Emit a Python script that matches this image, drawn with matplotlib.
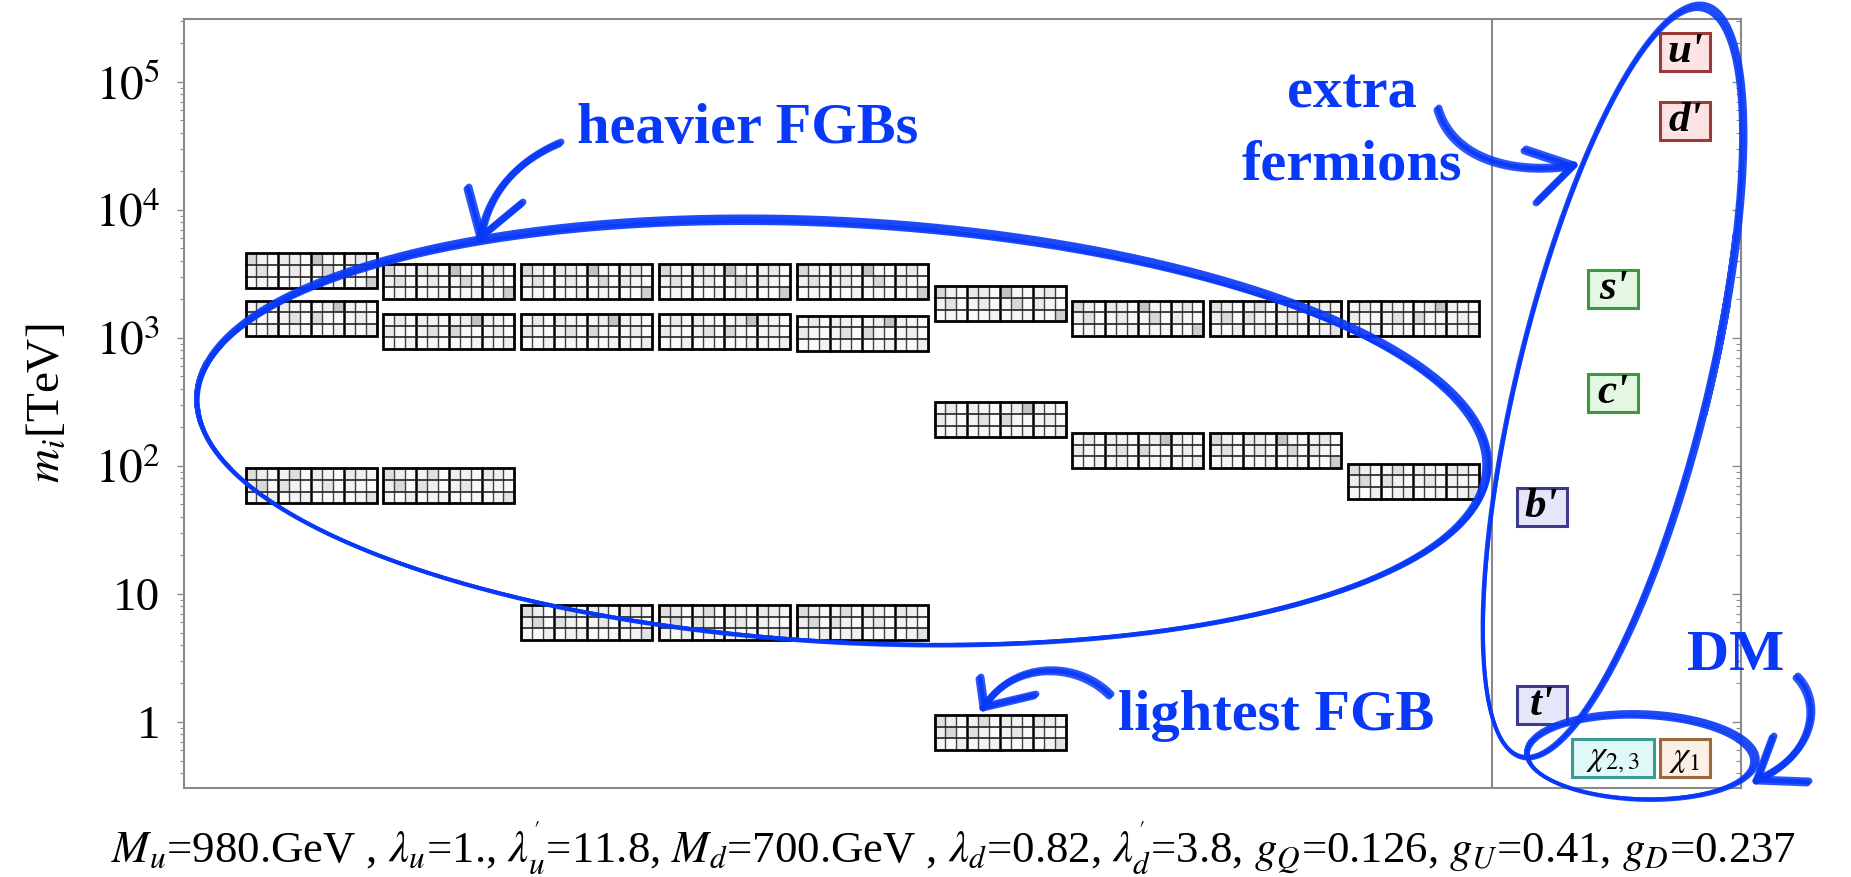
import matplotlib; matplotlib.use("Agg")
import matplotlib.pyplot as plt
import numpy as np
from matplotlib.patches import Rectangle
from matplotlib.transforms import ScaledTranslation

plt.rcParams["font.family"] = ["Liberation Serif", "DejaVu Serif"]
plt.rcParams["mathtext.fontset"] = "stix"

W_PX, H_PX, DPI = 1851, 877, 100
BLUE = "#0838f8"
GRAY = "#8a8a8a"

# FGB spectrum: column index and mass (TeV)
fgb_col  = [1, 1, 1, 2, 2, 2, 3, 3, 3, 4, 4, 4, 5, 5, 5, 6, 6, 6, 7, 7, 8, 8, 9, 9]
fgb_mass = [3340, 1430, 70, 2760, 1120, 70, 2760, 1120, 6.0, 2760, 1120, 6.0,
            2760, 1090, 6.0, 1850, 229, 0.83, 1430, 132, 1430, 132, 1430, 76]

# flavour-matrix shading of the little boxes (3 rows x 12 cells), cycled
shades = [
    [[.25, .12, .04, .16, .14, .04, .35, .08, .04, .10, .16, .04],
     [.12, .20, .04, .08, .16, .04, .08, .26, .04, .16, .08, .04],
     [.04, .08, .06, .04, .04, .10, .04, .08, .08, .04, .04, .30]],
    [[.08, .16, .04, .14, .10, .04, .08, .14, .35, .12, .08, .04],
     [.16, .08, .04, .10, .20, .04, .25, .08, .04, .08, .14, .04],
     [.04, .04, .12, .04, .08, .04, .04, .04, .10, .08, .04, .14]],
    [[.22, .14, .04, .10, .22, .04, .14, .10, .04, .16, .14, .08],
     [.14, .25, .04, .20, .12, .04, .10, .18, .04, .12, .08, .04],
     [.08, .04, .14, .04, .10, .12, .04, .04, .08, .04, .10, .20]],
]

# extra fermions and DM candidates
ferm_lab  = ["u'", "d'", "s'", "c'", "b'", "t'", r"$\chi_{2,3}$", r"$\chi_1$"]
ferm_x    = [10.97, 10.97, 10.45, 10.45, 9.93, 9.93, 10.45, 10.97]
ferm_mass = [1.71e5, 4.96e4, 2415, 372, 47.8, 1.36, 0.523, 0.523]
ferm_face = ["#fde3e3", "#fde3e3", "#e3f7e3", "#e3f7e3", "#e6e6fa", "#e6e6fa", "#e0f8f8", "#fcefe3"]
ferm_edge = ["#9b3a3a", "#9b3a3a", "#3c9a3c", "#3c9a3c", "#3c3c8c", "#3c3c8c", "#3c9a94", "#9a6a3c"]

yticks = [1, 10, 1e2, 1e3, 1e4, 1e5]
ytick_labels = ["1", "10", "$10^2$", "$10^3$", "$10^4$", "$10^5$"]

params = (r"$M_u$=980.GeV , $\lambda_u$=1., $\lambda_u^{'}$=11.8, $M_d$=700.GeV , "
          r"$\lambda_d$=0.82, $\lambda_d^{'}$=3.8, $g_Q$=0.126, $g_U$=0.41, $g_D$=0.237")

fig = plt.figure(figsize=(W_PX / DPI, H_PX / DPI), dpi=DPI)
ax = fig.add_axes([184 / W_PX, 1 - 788 / H_PX, (1741 - 184) / W_PX, (788 - 19) / H_PX])
ax.set_yscale("log")

# --- FGB boxes (size fixed in inches, placed at data position) ---
bw, bh = 1.31, 0.35
xs = np.linspace(-bw / 2, bw / 2, 13)
ys = np.linspace(-bh / 2, bh / 2, 4)
for k, (c, m) in enumerate(zip(fgb_col, fgb_mass)):
    tr = fig.dpi_scale_trans + ScaledTranslation(c, m, ax.transData)
    ax.pcolormesh(xs, ys, np.array(shades[k % len(shades)])[::-1], cmap="Greys",
                  vmin=0, vmax=1, transform=tr, zorder=2)
    for j in range(1, 12):
        thick = j % 3 == 0
        ax.plot([xs[j]] * 2, [ys[0], ys[-1]], color="k" if thick else "#444",
                lw=1.8 if thick else 1.0, transform=tr, zorder=3)
    for j in (1, 2):
        ax.plot([xs[0], xs[-1]], [ys[j]] * 2, color="#222", lw=1.2, transform=tr, zorder=3)
    ax.add_patch(Rectangle((-bw / 2, -bh / 2), bw, bh, fill=False, ec="k", lw=2.0,
                           transform=tr, zorder=4))

# --- fermion labels ---
for lab, x, m, fc, ec in zip(ferm_lab, ferm_x, ferm_mass, ferm_face, ferm_edge):
    tr = fig.dpi_scale_trans + ScaledTranslation(x, m, ax.transData)
    chi = "chi" in lab
    w = 0.82 if "2,3" in lab else 0.50
    ax.add_patch(Rectangle((-w / 2, -0.19), w, 0.38, fc=fc, ec=ec, lw=2.2, transform=tr, zorder=3))
    if chi:
        ax.text(x, m, lab, ha="center", va="center", fontsize=25, zorder=4)
    else:
        ax.text(x, m, lab, ha="center", va="center", fontsize=31, fontstyle="italic",
                fontweight="semibold", zorder=4)

ax.axvline(9.571, color=GRAY, lw=1.5)
ax.set_xlim(0.078, 11.377)
ax.set_ylim(0.305, 3.1e5)
ax.set_xticks([])
ax.set_yticks(yticks)
ax.set_yticklabels(ytick_labels)
ax.tick_params(axis="y", which="major", direction="out", length=5, width=1.0, color=GRAY,
               labelsize=34, pad=12)
ax.tick_params(axis="y", which="minor", direction="out", length=3, width=0.8, color=GRAY)
ax.set_ylabel(r"$m_i$[TeV]", fontsize=34)
ax.yaxis.set_label_coords(-0.074, 0.50)
for s in ax.spines.values():
    s.set_color(GRAY); s.set_linewidth(1.5)

axr = ax.twinx()
axr.set_yscale("log")
axr.set_ylim(ax.get_ylim())
axr.tick_params(axis="y", which="major", direction="in", length=6.5, width=1.0, color=GRAY,
                labelright=False)
axr.tick_params(axis="y", which="minor", direction="in", length=3.5, width=0.8, color=GRAY,
                labelright=False)
for s in axr.spines.values():
    s.set_visible(False)

fig.text(953 / W_PX, 1 - 862 / H_PX, params, ha="center", va="baseline", fontsize=32.2)

# --- hand-drawn overlay (figure pixel coordinates, y down) ---
ov = fig.add_axes([0, 0, 1, 1])
ov.set_xlim(0, W_PX); ov.set_ylim(H_PX, 0); ov.axis("off")


def sketch_ellipse(cx, cy, a, b, ang, jitter, lw=2.6):
    ca, sa = np.cos(np.radians(ang)), np.sin(np.radians(ang))
    for dcx, dcy, da, db, t0 in jitter:
        t = np.linspace(t0, t0 + 2 * np.pi + 0.3, 400)
        ex, ey = (a + da) * np.cos(t), (b + db) * np.sin(t)
        ov.plot(cx + dcx + ex * ca - ey * sa, cy + dcy + ex * sa + ey * ca,
                color=BLUE, lw=lw, solid_capstyle="round", alpha=0.9)


def sketch_arrow(pts, barbs, lw=5):
    P = np.array(pts, float)
    t = np.linspace(0, 1, 80)[:, None]
    cv = (1 - t) ** 3 * P[0] + 3 * (1 - t) ** 2 * t * P[1] + 3 * (1 - t) * t ** 2 * P[2] + t ** 3 * P[3]
    for d in (-1.0, 1.0):
        ov.plot(cv[:, 0] + d, cv[:, 1] - d, color=BLUE, lw=lw, solid_capstyle="round", alpha=0.85)
    for bx, by in barbs:
        for d in (-1.0, 1.0):
            ov.plot([bx + d, P[3][0] + d], [by - d, P[3][1] - d], color=BLUE, lw=lw,
                    solid_capstyle="round", alpha=0.85)


jit = [(0, 0, 0, 0, 2.9), (1, -1, 2, 2, 3.0), (-1, 1, -2, -1, 2.8), (1, 2, 1, -2, 3.1)]
sketch_ellipse(842, 432, 646, 210, 3.2, jit)
sketch_ellipse(1613, 382, 386, 95, -76.3, [(0, 0, 0, 0, 1.2), (1, -1, 2, 2, 1.3), (-1, 1, -2, -1, 1.1)])
sketch_ellipse(1641, 757, 114, 42, 2.0, [(0, 0, 0, 0, 3.0), (1, -1, 2, 2, 3.1), (-1, 1, -2, -1, 2.9)])

sketch_arrow([(560, 143), (515, 162), (488, 195), (481, 237)], [(468, 188), (522, 203)])
sketch_arrow([(1438, 109), (1450, 152), (1500, 176), (1573, 166)], [(1525, 150), (1537, 202)])
sketch_arrow([(1110, 695), (1075, 660), (1012, 662), (984, 707)], [(980, 678), (1035, 695)])
sketch_arrow([(1797, 677), (1824, 705), (1812, 757), (1757, 780)], [(1773, 737), (1808, 782)])

tkw = dict(color=BLUE, fontsize=42, fontweight="bold", ha="center", va="baseline")
ov.text(748, 143, "heavier FGBs", **tkw)
ov.text(1352, 108, "extra", **tkw)
ov.text(1352, 179, "fermions", **tkw)
ov.text(1276, 730, "lightest FGB", **tkw)
ov.text(1736, 670, "DM", **tkw)

fig.savefig("out.png", dpi=DPI)
